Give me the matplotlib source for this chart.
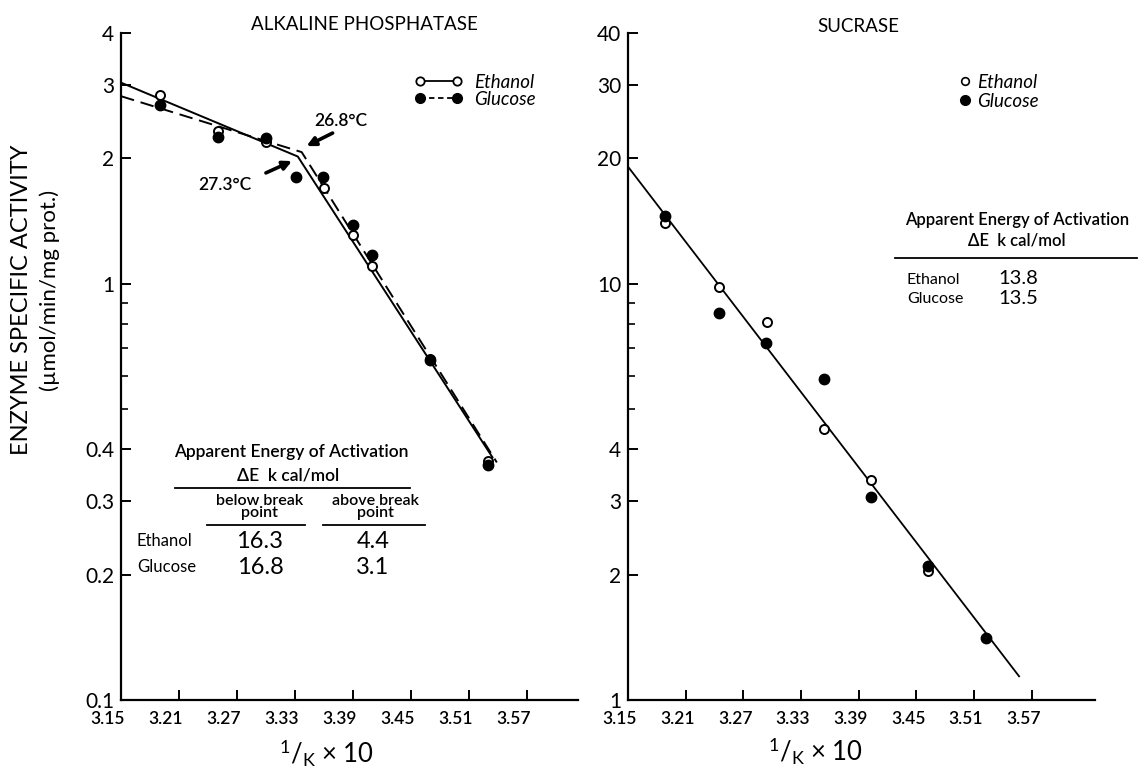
import matplotlib
matplotlib.use("Agg")
import matplotlib.pyplot as plt
from matplotlib.lines import Line2D
from matplotlib.transforms import ScaledTranslation

plt.rcParams['font.family'] = ['Lato', 'DejaVu Sans']
plt.rcParams['mathtext.fontset'] = 'custom'
plt.rcParams['mathtext.rm'] = 'Lato'
plt.rcParams['mathtext.it'] = 'Lato:italic'
plt.rcParams['mathtext.bf'] = 'Lato:bold'

# ---------------- data ----------------
# Alkaline phosphatase
alk_eth_x = [3.19, 3.25, 3.30, 3.36, 3.39, 3.41, 3.47, 3.53]
alk_eth_y = [2.84, 2.33, 2.19, 1.70, 1.31, 1.10, 0.66, 0.374]
alk_glu_x = [3.19, 3.25, 3.30, 3.331, 3.359, 3.39, 3.41, 3.47, 3.53]
alk_glu_y = [2.69, 2.25, 2.24, 1.80, 1.80, 1.38, 1.17, 0.655, 0.367]
alk_eth_fit_x = [3.15, 3.333, 3.535]
alk_eth_fit_y = [3.04, 2.02, 0.381]
alk_glu_fit_x = [3.15, 3.337, 3.539]
alk_glu_fit_y = [2.82, 2.07, 0.372]

# Sucrase
suc_eth_x = [3.189, 3.245, 3.295, 3.354, 3.403, 3.462]
suc_eth_y = [14.0, 9.8, 8.1, 4.47, 3.38, 2.04]
suc_glu_x = [3.189, 3.245, 3.294, 3.354, 3.403, 3.462, 3.523]
suc_glu_y = [14.5, 8.5, 7.2, 5.9, 3.07, 2.10, 1.41]
suc_fit_x = [3.15, 3.557]
suc_fit_y = [19.1, 1.14]

x_ticks = [3.15, 3.21, 3.27, 3.33, 3.39, 3.45, 3.51, 3.57]
x_ticklabels = ["3.15", "3.21", "3.27", "3.33", "3.39", "3.45", "3.51", "3.57"]
alk_yticks = [0.1, 0.2, 0.3, 0.4, 1, 2, 3, 4]
alk_yticklabels = ["0.1", "0.2", "0.3", "0.4", "1", "2", "3", "4"]
alk_yminor = [0.5, 0.6, 0.7, 0.8, 0.9]
suc_yticks = [1, 2, 3, 4, 10, 20, 30, 40]
suc_yticklabels = ["1", "2", "3", "4", "10", "20", "30", "40"]
suc_yminor = [5, 6, 7, 8, 9]

alk_table_rows = ["Ethanol", "Glucose"]
alk_below = ["16.3", "16.8"]
alk_above = ["4.4", "3.1"]
suc_table_vals = ["13.8", "13.5"]

# ---------------- figure ----------------
W, H = 1145, 769
fig = plt.figure(figsize=(W / 100, H / 100), dpi=100)


def fx(px):
    return px / W


def fy(py):
    return 1 - py / H


bottom = fy(700)
height = fy(33) - bottom
ax1 = fig.add_axes([fx(121), bottom, fx(578) - fx(121), height])
ax2 = fig.add_axes([fx(628), bottom, fx(1095) - fx(628), height])

ms_open = 6.5
ms_fill = 7.5

for ax in (ax1, ax2):
    ax.set_yscale('log')
    for s in ('top', 'right'):
        ax.spines[s].set_visible(False)
    for s in ('left', 'bottom'):
        ax.spines[s].set_linewidth(1.6)
    ax.tick_params(axis='both', which='major', direction='in', length=7, width=1.4)
    ax.tick_params(axis='y', which='minor', direction='in', length=5, width=1.2)
    ax.tick_params(axis='x', labelbottom=False)
    ax.tick_params(axis='y', labelsize=15, pad=5)

# --- left panel ---
ax1.plot(alk_eth_fit_x, alk_eth_fit_y, color='black', lw=1.4, solid_capstyle='butt')
ax1.plot(alk_glu_fit_x, alk_glu_fit_y, color='black', lw=1.4, dashes=(7, 3.5))
ax1.plot(alk_eth_x, alk_eth_y, 'o', ms=ms_open, mfc='white', mec='black', mew=1.4, ls='None', zorder=3)
ax1.plot(alk_glu_x, alk_glu_y, 'o', ms=ms_fill, mfc='black', mec='black', ls='None', zorder=4)
ax1.set_xlim(3.15, 3.623)
ax1.set_ylim(0.1, 4)
ax1.set_xticks(x_ticks)
ax1.set_yticks(alk_yticks)
ax1.set_yticklabels(alk_yticklabels)
ax1.set_yticks(alk_yminor, minor=True)
ax1.yaxis.set_minor_formatter(plt.NullFormatter())

# --- right panel ---
ax2.plot(suc_fit_x, suc_fit_y, color='black', lw=1.3)
ax2.plot(suc_eth_x, suc_eth_y, 'o', ms=ms_open, mfc='white', mec='black', mew=1.4, ls='None', zorder=3)
ax2.plot(suc_glu_x, suc_glu_y, 'o', ms=ms_fill, mfc='black', mec='black', ls='None', zorder=4)
ax2.set_xlim(3.15, 3.636)
ax2.set_ylim(1, 40)
ax2.set_xticks(x_ticks)
ax2.set_yticks(suc_yticks)
ax2.set_yticklabels(suc_yticklabels)
ax2.set_yticks(suc_yminor, minor=True)
ax2.yaxis.set_minor_formatter(plt.NullFormatter())

# hand-lettered x tick labels sit a little left of their ticks
for ax, dx in ((ax1, -13), (ax2, -8)):
    tr = ax.get_xaxis_transform() + ScaledTranslation(dx / 100, -11.5 / 100, fig.dpi_scale_trans)
    for xv, lab in zip(x_ticks, x_ticklabels):
        ax.text(xv, 0, lab, transform=tr, ha='center', va='top', fontsize=12.5,
                fontweight='semibold', clip_on=False)

# --- titles ---
fig.text(fx(364), fy(24), "ALKALINE PHOSPHATASE", ha='center', va='center', fontsize=13.5)
fig.text(fx(858), fy(26), "SUCRASE", ha='center', va='center', fontsize=13.5)

# --- y label ---
fig.text(fx(22), fy(300), "ENZYME SPECIFIC ACTIVITY", rotation=90, ha='center', va='center', fontsize=17)
fig.text(fx(50), fy(290), "(\u00b5mol/min/mg prot.)", rotation=90, ha='center', va='center', fontsize=16)

# --- x labels ---
xl = r"$^{1}/_{\mathrm{K}}$" + " \u00d7 10"
fig.text(fx(326), fy(753), xl, ha='center', va='center', fontsize=18.5)
fig.text(fx(815), fy(751), xl, ha='center', va='center', fontsize=18.5)

# --- break point annotations ---
arrow = dict(arrowstyle='-|>', lw=2.6, mutation_scale=13, color='black', shrinkA=0, shrinkB=0)
ax1.annotate("", xy=(3.342, 2.14), xytext=(3.369, 2.30), arrowprops=arrow)
ax1.text(3.378, 2.46, "26.8\u00b0C", ha='center', va='center', fontsize=12.5, fontweight='semibold')
ax1.annotate("", xy=(3.327, 1.97), xytext=(3.300, 1.845), arrowprops=arrow)
ax1.text(3.258, 1.73, "27.3\u00b0C", ha='center', va='center', fontsize=12.5, fontweight='semibold')

# --- legends ---
lfs = 13.5
h_eth = Line2D([], [], color='black', lw=1.3, marker='o', ms=6, mfc='white', mec='black', mew=1.3)
h_glu = Line2D([], [], color='black', lw=1.3, dashes=(3, 2), marker='o', ms=7, mfc='black', mec='black')
leg1 = ax1.legend([h_eth, h_glu], ["Ethanol", "Glucose"], numpoints=2, frameon=False,
                  loc='upper left', bbox_to_anchor=(fx(414), fy(74)), bbox_transform=fig.transFigure,
                  borderpad=0, borderaxespad=0, handlelength=2.6, handletextpad=0.6,
                  labelspacing=0.0, prop={'style': 'italic', 'size': lfs})

h_eth2 = Line2D([], [], ls='None', marker='o', ms=5.5, mfc='white', mec='black', mew=1.2)
h_glu2 = Line2D([], [], ls='None', marker='o', ms=7, mfc='black', mec='black')
leg2 = ax2.legend([h_eth2, h_glu2], ["Ethanol", "Glucose"], numpoints=1, frameon=False,
                  loc='upper left', bbox_to_anchor=(fx(959), fy(74)), bbox_transform=fig.transFigure,
                  borderpad=0, borderaxespad=0, handlelength=0.6, handletextpad=0.35,
                  labelspacing=0.1, prop={'style': 'italic', 'size': lfs})


def hline(x0, x1, y, lw=1.3):
    fig.add_artist(Line2D([fx(x0), fx(x1)], [fy(y), fy(y)], transform=fig.transFigure,
                          color='black', lw=lw))


# --- left table ---
hw = 'semibold'
fig.text(fx(291), fy(452), "Apparent Energy of Activation", ha='center', va='center', fontsize=12.5, fontweight=hw)
fig.text(fx(288), fy(475), "\u0394E  k cal/mol", ha='center', va='center', fontsize=12.5, fontweight=hw)
hline(175, 410, 488)
fig.text(fx(260), fy(507), "below break\npoint", ha='center', va='center', fontsize=11.5,
         fontweight=hw, linespacing=0.85)
fig.text(fx(375), fy(507), "above break\npoint", ha='center', va='center', fontsize=11.5,
         fontweight=hw, linespacing=0.85)
hline(207, 305, 524.5)
hline(323, 425, 524.5)
for i, (row, b, a) in enumerate(zip(alk_table_rows, alk_below, alk_above)):
    yy = 541 + 26 * i
    fig.text(fx(137), fy(yy), row, ha='left', va='center', fontsize=12)
    fig.text(fx(260), fy(yy), b, ha='center', va='center', fontsize=17)
    fig.text(fx(373), fy(yy), a, ha='center', va='center', fontsize=17)

# --- right table ---
fig.text(fx(1017), fy(220), "Apparent Energy of Activation", ha='center', va='center', fontsize=12, fontweight=hw)
fig.text(fx(1017), fy(241), "\u0394E  k cal/mol", ha='center', va='center', fontsize=12, fontweight=hw)
hline(895, 1137, 258)
for i, (row, v) in enumerate(zip(alk_table_rows, suc_table_vals)):
    yy = 280 + 19 * i
    fig.text(fx(907), fy(yy), row, ha='left', va='center', fontsize=11.5)
    fig.text(fx(998), fy(yy - 1), v, ha='left', va='center', fontsize=14.5)

fig.savefig("out.png", dpi=100)
